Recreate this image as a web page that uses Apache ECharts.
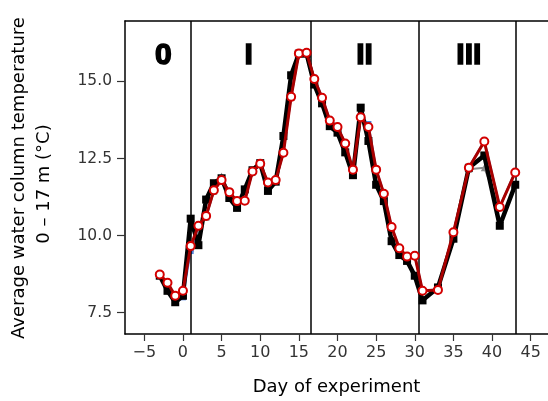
<!DOCTYPE html>
<html><head><meta charset="utf-8">
<script src="https://cdn.jsdelivr.net/npm/echarts@6/dist/echarts.min.js"></script>
<style>html,body{margin:0;padding:0;background:#fff}#c{width:548px;height:401px}</style>
</head><body><div id="c"></div>
<script>
const days = [-3,-2,-1,0,1,2,3,4,5,6,7,8,9,10,11,12,13,14,15,16,17,18,19,20,21,22,23,24,25,26,27,28,29,30,31,33,35,37,39,41,43];
const redVals = [8.74,8.47,8.05,8.21,9.66,10.32,10.64,11.47,11.8,11.41,11.12,11.13,12.08,12.33,11.72,11.8,12.69,14.5,15.91,15.93,15.08,14.47,13.73,13.52,12.99,12.14,13.84,13.52,12.14,11.36,10.28,9.59,9.32,9.35,8.21,8.24,10.11,12.2,13.05,10.93,12.05];
const blackVals = [8.7,8.21,7.84,8.05,10.55,9.69,11.17,11.7,11.86,11.22,10.9,11.5,12.12,12.35,11.45,11.75,13.23,15.2,15.9,15.9,14.9,14.29,13.55,13.34,12.7,11.96,14.15,13.07,11.65,11.12,9.82,9.37,9.18,8.7,7.9,8.32,9.9,12.2,12.6,10.32,11.65];
const blueVals = [8.76,8.45,8.02,8.0,9.5,10.3,10.62,11.45,11.82,11.43,11.1,11.15,12.1,12.3,11.7,11.82,12.7,14.52,15.92,15.93,15.12,14.5,13.76,13.55,13.0,12.12,13.86,13.62,12.16,11.38,10.3,9.6,9.33,9.38,8.22,8.25,10.1,12.22,13.08,10.95,12.07];
const greyVals = [8.72,8.44,8.03,8.18,9.6,10.28,10.6,11.44,11.93,11.4,11.1,11.12,12.06,12.32,11.7,11.78,12.68,14.48,15.9,15.92,15.06,14.45,13.72,13.5,12.97,12.12,13.82,13.5,12.12,11.34,10.26,9.57,9.3,9.33,8.2,8.23,10.08,12.15,12.2,10.9,12.1];
const phaseBounds = [1.05, 16.5, 30.5, 43.05];
const phaseLabels = ['0','I','II','III'];
const phaseLabelX = [-2.55, 8.5, 23.5, 37.0];
const xTicks = [-5,0,5,10,15,20,25,30,35,40,45];
const yTicks = [7.5,10,12.5,15];

const pair = v => days.map((d,i)=>[d,v[i]]);
const chart = echarts.init(document.getElementById('c'), null, {renderer:'canvas'});
const FONT = 'DejaVu Sans';
const XMIN = -7.5, XMAX = 47.24;
chart.setOption({
  animation:false,
  grid:{left:125, top:21, right:0, bottom:60.3, show:false},
  xAxis:[{type:'value', min:XMIN, max:XMAX, position:'bottom',
    name:'Day of experiment', nameLocation:'middle', nameGap:44,
    nameTextStyle:{fontFamily:FONT, fontSize:18, color:'#000'},
    axisLine:{show:true, onZero:false, lineStyle:{color:'#000', width:1.5}}, splitLine:{show:false},
    axisTick:{show:true, customValues:xTicks, length:7, lineStyle:{color:'#333', width:1.2}},
    axisLabel:{customValues:xTicks, fontFamily:FONT, fontSize:16, color:'#333', margin:11,
      formatter:v=> v<0 ? '\u2212'+Math.abs(v) : String(v)}
  },{type:'value', min:XMIN, max:XMAX, position:'top',
    axisLine:{show:true, onZero:false, lineStyle:{color:'#000', width:1.5}},
    axisTick:{show:false}, axisLabel:{show:false}, splitLine:{show:false}
  }],
  yAxis:{type:'value', min:6.81, max:16.96,
    axisLine:{show:true, onZero:false, lineStyle:{color:'#000', width:1.5}}, splitLine:{show:false},
    axisTick:{show:true, customValues:yTicks, length:8, lineStyle:{color:'#333', width:1.2}},
    axisLabel:{customValues:yTicks, fontFamily:FONT, fontSize:15.5, color:'#333', margin:13,
      formatter:v=>v.toFixed(1)}
  },
  graphic:[
    {type:'text', x:19, y:178, rotation:Math.PI/2, style:{text:'Average water column temperature', font:'18px "DejaVu Sans"', fill:'#000', textAlign:'center', textVerticalAlign:'middle'}},
    {type:'text', x:44, y:184, rotation:Math.PI/2, style:{text:'0 \u2013 17 m (\u00B0C)', font:'18px "DejaVu Sans"', fill:'#000', textAlign:'center', textVerticalAlign:'middle'}}
  ],
  series:[
    {type:'line', data:pair(greyVals), symbol:'triangle', symbolSize:7, z:2,
      lineStyle:{color:'#8c8c8c', width:2}, itemStyle:{color:'#8c8c8c'}},
    {type:'line', data:pair(blueVals), symbol:'rect', symbolSize:6, z:3,
      lineStyle:{color:'#4f7fd9', width:2}, itemStyle:{color:'#4f7fd9'}},
    {type:'line', data:pair(blackVals), symbol:'rect', symbolSize:8, z:4,
      lineStyle:{color:'#000', width:4.5}, itemStyle:{color:'#000'},
      markLine:{silent:true, symbol:'none', label:{show:false},
        lineStyle:{color:'#000', width:1.5, type:'solid'},
        data:phaseBounds.map(x=>({xAxis:x}))}},
    {type:'line', data:pair(redVals), symbol:'circle', symbolSize:8, z:5,
      lineStyle:{color:'#a80000', width:3}, itemStyle:{color:'#fff', borderColor:'#d40000', borderWidth:2}},
    {type:'scatter', symbolSize:0, z:6, silent:true, itemStyle:{opacity:1},
      data:phaseLabelX.map((x,i)=>({value:[x,15.82], name:phaseLabels[i]})),
      label:{show:true, position:'inside', formatter:p=>p.name, fontFamily:'Liberation Sans', fontWeight:'bold', fontSize:30, color:'#000', opacity:1, textBorderColor:'#000', textBorderWidth:1.5}}
  ]
});
</script></body></html>
